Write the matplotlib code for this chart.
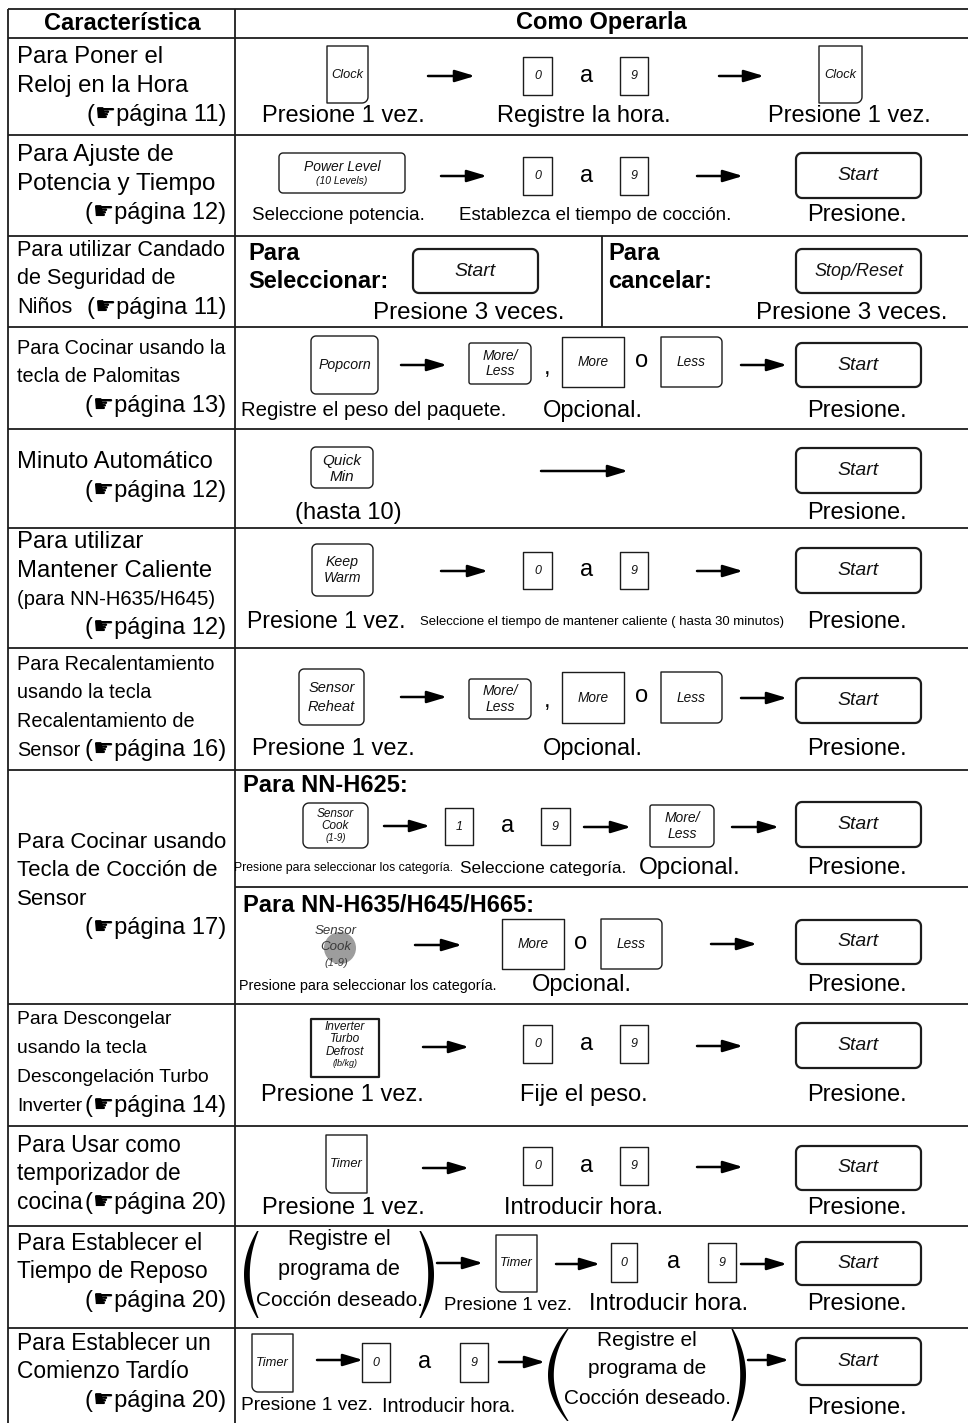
import numpy as np
import matplotlib
matplotlib.use("Agg")
import matplotlib.pyplot as plt
from matplotlib.patches import Polygon, Circle
from matplotlib import font_manager as fm

# ---------------- content ----------------
header = ["Característica", "Como Operarla"]

feature_lines = [
    ["Para Poner el", "Reloj en la Hora"],
    ["Para Ajuste de", "Potencia y Tiempo"],
    ["Para utilizar Candado", "de Seguridad de", "Niños"],
    ["Para Cocinar usando la", "tecla de Palomitas"],
    ["Minuto Automático"],
    ["Para utilizar", "Mantener Caliente", "(para NN-H635/H645)"],
    ["Para Recalentamiento", "usando la tecla", "Recalentamiento de", "Sensor"],
    ["Para Cocinar usando", "Tecla de Cocción de", "Sensor"],
    ["Para Descongelar", "usando la tecla", "Descongelación Turbo", "Inverter"],
    ["Para Usar como", "temporizador de", "cocina"],
    ["Para Establecer el", "Tiempo de Reposo"],
    ["Para Establecer un", "Comienzo Tardío"],
]
page_refs = [11, 12, 11, 13, 12, 12, 16, 17, 14, 20, 20, 20]
ref_inline = [False, False, True, False, False, False, True, False, True, True, False, False]

captions = [
    ["Presione 1 vez.", "Registre la hora.", "Presione 1 vez."],
    ["Seleccione potencia.", "Establezca el tiempo de cocción.", "Presione."],
    ["Presione 3 veces.", "Presione 3 veces."],
    ["Registre el peso del paquete.", "Opcional.", "Presione."],
    ["(hasta 10)", "Presione."],
    ["Presione 1 vez.", "Seleccione el tiempo de mantener caliente ( hasta 30 minutos)", "Presione."],
    ["Presione 1 vez.", "Opcional.", "Presione."],
    ["Presione para seleccionar los categoría.", "Seleccione categoría.", "Opcional.", "Presione.",
     "Presione para seleccionar los categoría.", "Opcional.", "Presione."],
    ["Presione 1 vez.", "Fije el peso.", "Presione."],
    ["Presione 1 vez.", "Introducir hora.", "Presione."],
    ["Presione 1 vez.", "Introducir hora.", "Presione."],
    ["Presione 1 vez.", "Introducir hora.", "Presione."],
]
sub_headings = [["Para", "Seleccionar:"], ["Para", "cancelar:"],
                "Para NN-H625:", "Para NN-H635/H645/H665:"]
program_text = ["Registre el", "programa de", "Cocción deseado."]

key_clock = ["Clock"]
key_power = ["Power Level", "(10 Levels)"]
key_start = ["Start"]
key_stop = ["Stop/Reset"]
key_popcorn = ["Popcorn"]
key_moreless = ["More/", "Less"]
key_more = ["More"]
key_less = ["Less"]
key_quick = ["Quick", "Min"]
key_keep = ["Keep", "Warm"]
key_reheat = ["Sensor", "Reheat"]
key_sensorcook = ["Sensor", "Cook", "(1-9)"]
key_defrost = ["Inverter", "Turbo", "Defrost", "(lb/kg)"]
key_timer = ["Timer"]
digit_lo, digit_hi, digit_one = "0", "9", "1"
word_to, word_or = "a", "o"

# ---------------- setup ----------------
W, H = 968, 1423
names = {f.name for f in fm.fontManager.ttflist}
REG = ["Liberation Sans", "DejaVu Sans"]
if "Liberation Sans Narrow" in names:
    NAR, NK = ["Liberation Sans Narrow", "DejaVu Sans"], 1.0
else:
    NAR, NK = REG, 0.84

fig = plt.figure(figsize=(W / 100, H / 100), dpi=100)
ax = fig.add_axes([0, 0, 1, 1])
ax.set_xlim(0, W)
ax.set_ylim(H, 0)
ax.axis("off")

LC = "#1c1c1c"


def txt(x, y, s, size=17, ha="center", va="center", bold=False, italic=False,
        narrow=False, color="black", z=5):
    fam = NAR if narrow else REG
    sz = size * (NK if narrow else 1.0)
    ax.text(x, y, s, fontsize=sz, ha=ha, va=va, family=fam,
            fontweight="bold" if bold else "normal",
            fontstyle="italic" if italic else "normal", color=color, zorder=z)


def arc(cx, cy, rad, a0, a1):
    if rad <= 0:
        return [(cx, cy)]
    a = np.radians(np.linspace(a0, a1, 10))
    return list(zip(cx + rad * np.cos(a), cy + rad * np.sin(a)))


def key(x0, y0, x1, y1, lines, size=10, r=(0, 0, 0, 0), lw=1.0, sizes=None, ys=None):
    if np.isscalar(r):
        r = (r, r, r, r)
    tl, tr, br, bl = r
    pts = (arc(x0 + tl, y0 + tl, tl, 180, 270) + arc(x1 - tr, y0 + tr, tr, 270, 360)
           + arc(x1 - br, y1 - br, br, 0, 90) + arc(x0 + bl, y1 - bl, bl, 90, 180))
    ax.add_patch(Polygon(pts, closed=True, facecolor="white", edgecolor=LC,
                         lw=lw, joinstyle="round", zorder=3))
    cx, cy = (x0 + x1) / 2, (y0 + y1) / 2
    n = len(lines)
    sizes = sizes or [size] * n
    if ys is None:
        gap = size * 1.15 * 100 / 72
        ys = [cy + (i - (n - 1) / 2) * gap for i in range(n)]
    for s, sz, yy in zip(lines, sizes, ys):
        txt(cx, yy, s, size=sz, italic=True, color="#111")


def start(y0, y1, x0=796, x1=921, lines=key_start, size=14):
    key(x0, y0, x1, y1, lines, size=size, r=6, lw=1.6)


def arrow(x0, x1, y):
    ax.annotate("", xy=(x1, y), xytext=(x0, y),
                arrowprops=dict(arrowstyle="-|>,head_length=1.2,head_width=0.36",
                                lw=1.8, color="black", shrinkA=0, shrinkB=0,
                                mutation_scale=10), zorder=4)


def digits_seq(xa, xb, yb0, yb1, xs_to, lo=digit_lo, hi=digit_hi):
    key(xa[0], yb0, xa[1], yb1, [lo], size=9)
    txt(xs_to, (yb0 + yb1) / 2, word_to, size=17)
    key(xb[0], yb0, xb[1], yb1, [hi], size=9)


def paren(xe, xm, y0, y1, thick=4.2):
    t = np.linspace(-1, 1, 80)
    y = (y0 + y1) / 2 + t * (y1 - y0) / 2
    f = 1 - t ** 2
    xo = xe + (xm - xe) * f
    d = np.sign(xe - xm)
    xi = xo + d * (thick * f + 1.6)
    poly = np.concatenate([np.column_stack([xo, y]), np.column_stack([xi, y])[::-1]])
    ax.add_patch(Polygon(poly, closed=True, facecolor="black", edgecolor="none", zorder=4))


# ---------------- table grid ----------------
row_bounds = [38, 135, 236, 327, 429, 528, 648, 770, 1004, 1126, 1226, 1328]
GL = dict(color=LC, lw=1.3, zorder=2, solid_capstyle="butt")
ax.plot([8, W], [9, 9], **GL)
for yb in row_bounds:
    ax.plot([8, W], [yb, yb], **GL)
ax.plot([8, 8], [9, H], **GL)
ax.plot([235, 235], [9, H], **GL)
ax.plot([602, 602], [236, 327], **GL)
ax.plot([235, W], [887, 887], **GL)

# header
txt(122, 23, header[0], size=17, bold=True)
txt(601, 23, header[1], size=17, bold=True)

# ---------------- left column ----------------
first_line_y = [57, 155, 250, 348, 462, 542, 664, 842, 1020, 1145, 1243, 1343]
row_font = [(17.2, False), (17.4, False), (15.6, False), (17, True), (17.1, False),
            (17.2, False), (17, True), (16, False), (16.5, True), (16.3, False),
            (16.3, False), (16.4, False)]
LS = 28.8
for i, lines in enumerate(feature_lines):
    y = first_line_y[i]
    sz, nar = row_font[i]
    for j, s in enumerate(lines):
        ssz = 14.6 if s.startswith("(para") else sz
        txt(17, y + j * LS, s, size=ssz, ha="left", narrow=nar)
    yref = y + (len(lines) - 1 if ref_inline[i] else len(lines)) * LS
    txt(226, yref, f"(\u261bpágina {page_refs[i]})", size=17, ha="right")

# ---------------- right column ----------------
# row 1
key(327, 46, 368, 103, key_clock, size=9.2, r=(0, 0, 6, 0))
arrow(428, 475, 76)
digits_seq((523, 552), (620, 648), 57, 95, 587)
arrow(719, 764, 76)
key(819, 46, 862, 103, key_clock, size=9.2, r=(0, 0, 6, 0))
c = captions[0]
txt(343, 116, c[0]); txt(584, 116, c[1]); txt(849, 116, c[2])

# row 2
key(279, 153, 405, 193, key_power, r=4, sizes=[10, 7.5], ys=[167, 181])
arrow(441, 487, 176)
digits_seq((523, 552), (620, 648), 157, 195, 587)
arrow(697, 743, 176)
start(153, 198)
c = captions[1]
txt(338, 215, c[0], size=13.5); txt(595, 215, c[1], size=13.5); txt(857, 215, c[2])

# row 3
txt(248, 254, sub_headings[0][0], ha="left", bold=True)
txt(248, 282, sub_headings[0][1], ha="left", bold=True)
start(249, 293, x0=413, x1=538)
txt(608, 254, sub_headings[1][0], ha="left", bold=True)
txt(608, 282, sub_headings[1][1], ha="left", bold=True)
start(249, 293, lines=key_stop, size=13)
c = captions[2]
txt(469, 313, c[0], size=17.4); txt(852, 313, c[1], size=17.4)


def more_less_group(y_ml0, y_ml1, y_b0, y_b1, ycomma):
    key(469, y_ml0, 531, y_ml1, key_moreless, size=10, r=(2, 5, 5, 2))
    txt(547, ycomma, ",", size=17)
    key(562, y_b0, 624, y_b1, key_more, size=9.8)
    txt(642, (y_b0 + y_b1) / 2 - 1, word_or, size=17)
    key(661, y_b0, 722, y_b1, key_less, size=9.8, r=(0, 5, 5, 0))


# row 4
key(311, 336, 378, 394, key_popcorn, size=10.2, r=5)
arrow(401, 447, 365)
more_less_group(343, 384, 337, 387, 368)
arrow(741, 787, 365)
start(343, 387)
c = captions[3]
txt(374, 411, c[0], size=14.7); txt(593, 411, c[1]); txt(857, 411, c[2])

# row 5
key(311, 447, 373, 488, key_quick, size=11, r=5, ys=[461, 477])
arrow(541, 628, 471)
start(448, 493)
c = captions[4]
txt(348, 513, c[0]); txt(857, 513, c[1])

# row 6
key(312, 544, 373, 596, key_keep, size=10.2, r=5, ys=[562, 578])
arrow(441, 488, 571)
digits_seq((523, 552), (620, 648), 552, 589, 587)
arrow(697, 743, 571)
start(548, 593)
c = captions[5]
txt(326, 622, c[0], size=16.6); txt(602, 622, c[1], size=11.2, narrow=True); txt(857, 622, c[2])

# row 7
key(299, 669, 364, 725, key_reheat, size=10.5, r=5, ys=[688, 707])
arrow(401, 447, 697)
more_less_group(679, 719, 672, 723, 701)
arrow(741, 787, 698)
start(678, 723)
c = captions[6]
txt(333, 749, c[0]); txt(593, 749, c[1]); txt(857, 749, c[2])

# row 8 (two sub-rows)
txt(243, 785, sub_headings[2], ha="left", bold=True)
key(303, 803, 368, 848, key_sensorcook, r=6, sizes=[8.5, 8.5, 7], ys=[814, 826, 838])
arrow(384, 430, 826)
digits_seq((445, 473), (541, 570), 808, 845, 508, lo=digit_one)
arrow(584, 631, 827)
key(650, 805, 714, 847, key_moreless, size=10, r=(2, 5, 5, 2))
arrow(732, 779, 827)
start(802, 847)
c = captions[7]
txt(344, 868, c[0], size=10.5, narrow=True)
txt(543, 868, c[1], size=14.8, narrow=True)
txt(690, 868, c[2], size=17.4)
txt(857, 868, c[3])

txt(243, 905, sub_headings[3], ha="left", bold=True)
ax.add_patch(Circle((340, 948), 16, facecolor="#9d9d9d", edgecolor="none", zorder=3))
for s, yy, sz in zip(key_sensorcook, [931, 947, 963], [9.5, 9.5, 8]):
    txt(336, yy, s, size=sz, italic=True, color="#3a3a3a")
arrow(415, 462, 945)
key(502, 919, 564, 969, key_more, size=9.8)
txt(581, 943, word_or, size=17)
key(601, 919, 662, 969, key_less, size=9.8, r=(0, 5, 5, 0))
arrow(711, 757, 944)
start(920, 964)
txt(368, 986, c[4], size=12.3, narrow=True)
txt(582, 985, c[5])
txt(857, 985, c[6])

# row 9
key(311, 1019, 379, 1077, key_defrost, lw=1.6, sizes=[8.6, 8.6, 8.6, 6.5],
    ys=[1027, 1039, 1052, 1064])
arrow(423, 469, 1047)
digits_seq((523, 552), (620, 648), 1025, 1063, 587)
arrow(697, 743, 1046)
start(1023, 1068)
c = captions[8]
txt(342, 1095, c[0]); txt(584, 1095, c[1]); txt(857, 1095, c[2])

# row 10
key(326, 1135, 367, 1193, key_timer, size=9.3, r=(0, 0, 0, 6))
arrow(423, 469, 1168)
digits_seq((523, 552), (620, 648), 1147, 1185, 587)
arrow(697, 743, 1167)
start(1146, 1190)
c = captions[9]
txt(343, 1208, c[0]); txt(584, 1208, c[1]); txt(857, 1208, c[2])

# row 11
paren(257, 244, 1231, 1318)
paren(421, 434, 1231, 1318)
for s, yy, sz in zip(program_text, [1240, 1270, 1300], [15.5, 15.5, 15]):
    txt(339, yy, s, size=sz)
arrow(437, 483, 1263)
key(496, 1235, 537, 1292, key_timer, size=9.3, r=(0, 0, 0, 6))
arrow(556, 600, 1264)
digits_seq((611, 637), (708, 736), 1243, 1282, 674)
arrow(741, 787, 1264)
start(1242, 1285)
c = captions[10]
txt(508, 1305, c[0], size=13.4); txt(669, 1304, c[1], size=17); txt(857, 1304, c[2])

# row 12
key(252, 1334, 293, 1392, key_timer, size=9.3, r=(0, 0, 0, 6))
arrow(317, 363, 1360)
digits_seq((362, 390), (460, 488), 1343, 1382, 425)
arrow(499, 545, 1362)
paren(567, 548, 1329, 1421)
paren(733, 746, 1329, 1421)
for s, yy, sz in zip(program_text, [1340, 1369, 1399], [15, 15, 15]):
    txt(647, yy, s, size=sz)
arrow(748, 789, 1360)
start(1338, 1385)
c = captions[11]
txt(307, 1406, c[0], size=13.8); txt(449, 1406, c[1], size=14.2); txt(857, 1408, c[2])

fig.savefig("out.png", dpi=100, facecolor="white")
